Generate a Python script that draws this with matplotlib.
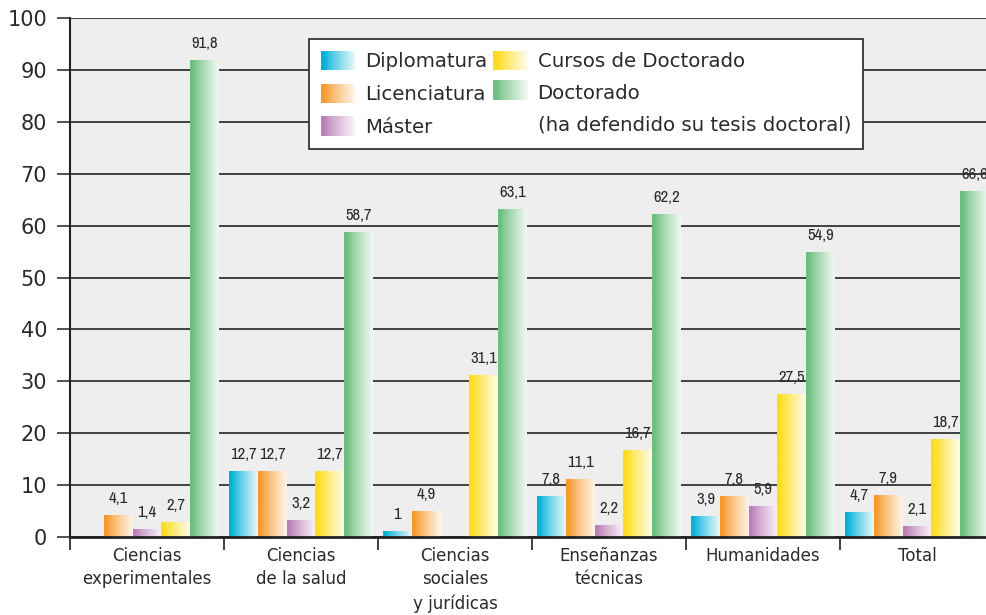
import numpy as np
import matplotlib
matplotlib.use("Agg")
import matplotlib.pyplot as plt
from matplotlib.patches import Patch, Rectangle
from matplotlib.legend_handler import HandlerBase
from matplotlib.colors import to_rgb
from matplotlib import font_manager

plt.rcParams['font.family'] = ['DejaVu Sans']

categories = ["Ciencias\nexperimentales", "Ciencias\nde la salud", "Ciencias\nsociales\ny jurídicas",
              "Enseñanzas\ntécnicas", "Humanidades", "Total"]
series_names = ["Diplomatura", "Licenciatura", "Máster", "Cursos de Doctorado",
                "Doctorado\n(ha defendido su tesis doctoral)"]
diplomatura = [np.nan, 12.7, 1.0, 7.8, 3.9, 4.7]
licenciatura = [4.1, 12.7, 4.9, 11.1, 7.8, 7.9]
master = [1.4, 3.2, np.nan, 2.2, 5.9, 2.1]
cursos = [2.7, 12.7, 31.1, 16.7, 27.5, 18.7]
doctorado = [91.8, 58.7, 63.1, 62.2, 54.9, 66.6]
series = [diplomatura, licenciatura, master, cursos, doctorado]
colors = ["#00b1d9", "#f8992a", "#bb7fb8", "#ffdc14", "#6cbf7c"]
yticks = list(range(0, 101, 10))

TXT = "#2a2a2a"

# pick a condensed face for value labels if one is installed
narrow = None
cond = None
for f in font_manager.fontManager.ttflist:
    nm = f.name + " " + str(f.fname)
    if f.style != 'normal' or f.weight not in (400, 'normal', 'regular'):
        continue
    if 'Narrow' in nm and narrow is None:
        narrow = f
    elif (f.stretch in ('condensed', 'semi-condensed') or 'Condensed' in nm) and cond is None:
        cond = f
if narrow is not None:
    val_font = dict(fontproperties=font_manager.FontProperties(fname=narrow.fname, size=12))
elif cond is not None:
    val_font = dict(fontproperties=font_manager.FontProperties(fname=cond.fname, size=10.3))
else:
    val_font = dict(family=['Liberation Sans', 'DejaVu Sans'], fontsize=10)


def gradient_colors(color, n=64):
    c = np.array(to_rgb(color))
    end = c * 0.1 + np.ones(3) * 0.9
    t = np.linspace(0, 1, n)
    f = np.clip((t - 0.08) / 0.92, 0, 1) ** 0.85
    return c[None, :] * (1 - f[:, None]) + end[None, :] * f[:, None]


class GradHandler(HandlerBase):
    def __init__(self, color, yshift=0.0):
        super().__init__()
        self.color = color
        self.yshift = yshift

    def create_artists(self, legend, orig_handle, xdescent, ydescent, width, height, fontsize, trans):
        cols = gradient_colors(self.color, 24)
        n = len(cols)
        arts = []
        for k in range(n):
            r = Rectangle((-xdescent + k * width / n, -ydescent + self.yshift * fontsize),
                          width / n * 1.08, height, facecolor=cols[k], edgecolor='none',
                          transform=trans)
            arts.append(r)
        return arts


fig = plt.figure(figsize=(9.87, 6.15), dpi=100)
ax = fig.add_axes([70 / 987, 78 / 615, 917 / 987, 519 / 615])
ax.set_facecolor("#eeeeee")

bw = 0.187
n_cat = len(categories)
for k, (vals, col) in enumerate(zip(series, colors)):
    grad = gradient_colors(col)[None, :, :]
    for i, v in enumerate(vals):
        if np.isnan(v):
            continue
        xc = i + 0.5 + (k - 2) * bw
        ax.imshow(grad, extent=(xc - bw / 2, xc + bw / 2, 0, v), aspect='auto',
                  interpolation='bilinear', zorder=2)
        ax.annotate(f"{v:g}".replace('.', ','), (xc, v), xytext=(0, 9),
                    textcoords='offset points', ha='center', va='baseline',
                    color=TXT, zorder=4, **val_font)

ax.set_xlim(0, 917 / 154)
ax.set_ylim(0, 100)
ax.set_aspect('auto')

ax.set_yticks(yticks)
ax.tick_params(axis='y', length=9.5, width=1.2, color='#333333', pad=7,
               labelsize=15, labelcolor=TXT, direction='out')
ax.yaxis.grid(True, color='#333333', linewidth=1.3)
ax.set_axisbelow(True)

ax.set_xticks(range(0, n_cat), [''] * n_cat)
ax.tick_params(axis='x', which='major', length=9, width=1.3, color='#333333', direction='out')
ax.set_xticks([i + 0.5 for i in range(n_cat)], categories, minor=True)
ax.tick_params(axis='x', which='minor', length=0, pad=7, labelsize=12, labelcolor=TXT)
for lbl in ax.get_xticklabels(minor=True):
    lbl.set_linespacing(1.4)

for s in ['top', 'right']:
    ax.spines[s].set_visible(False)
ax.spines['left'].set_linewidth(1.5)
ax.spines['left'].set_color('#222222')
ax.spines['bottom'].set_linewidth(2)
ax.spines['bottom'].set_color('#222222')
ax.spines['bottom'].set_zorder(5)

handles = [Patch(facecolor=c) for c in colors]
hmap = {h: GradHandler(c, 1.0 if i == 4 else 0.0) for i, (h, c) in enumerate(zip(handles, colors))}
leg = ax.legend(handles, series_names, handler_map=hmap, ncol=2, loc='upper left',
                bbox_to_anchor=((309 - 70) / 917, 1 - (39 - 18) / 519), borderaxespad=0,
                fontsize=14.2, handlelength=1.75, handleheight=1.15, handletextpad=0.5,
                labelspacing=0.62, columnspacing=0.3, borderpad=0.6, fancybox=False,
                framealpha=1, edgecolor='#333333', facecolor='white')
leg.get_frame().set_linewidth(1.3)
leg.set_zorder(6)
for t in leg.get_texts():
    t.set_color(TXT)
    t.set_linespacing(1.85)

fig.savefig("out.png", dpi=100)
